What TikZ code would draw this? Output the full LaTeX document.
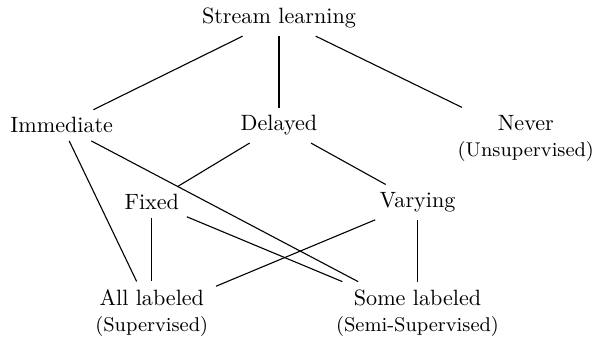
\documentclass[tikz,border=0pt]{standalone}
\usepackage{tikz}
\usetikzlibrary{positioning}
\newcommand{\subnote}[1]{{\small #1}}

\begin{document}
\begin{tikzpicture}[
    every node/.style={align=center},
    link/.style={draw=black,line width=0.5pt}]
    \useasboundingbox (0,0) rectangle (9.48,5.48);

    % Root
    \node (stream) at (4.43,5.19) {Stream learning};

    % Label availability
    \node (immediate) at (0.98,3.49) {Immediate};
    \node (delayed)   at (4.43,3.49) {Delayed};
    \node (never)     at (8.35,3.28) {Never\\\subnote{(Unsupervised)}};

    % Delay type
    \node (fixed)   at (2.41,2.27) {Fixed};
    \node (varying) at (6.63,2.27) {Varying};

    % Labeling
    \node (all)  at (2.41,0.51) {All labeled\\\subnote{(Supervised)}};
    \node (some) at (6.63,0.51) {Some labeled\\\subnote{(Semi-Supervised)}};

    % Connections
    \draw[link] (stream) -- (immediate);
    \draw[link] (stream) -- (delayed);
    \draw[link] (stream) -- (never);
    \draw[link] (delayed) -- (fixed);
    \draw[link] (delayed) -- (varying);
    \draw[link] (immediate) -- (all);
    \draw[link] (immediate) -- (some);
    \draw[link] (fixed) -- (all);
    \draw[link] (fixed) -- (some);
    \draw[link] (varying) -- (all);
    \draw[link] (varying) -- (some);
\end{tikzpicture}
\end{document}
